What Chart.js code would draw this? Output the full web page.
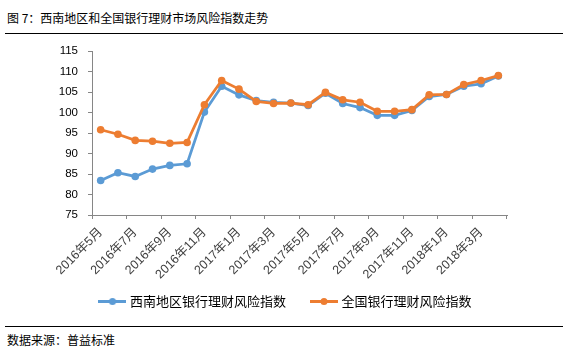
<!DOCTYPE html>
<html>
<head>
<meta charset="utf-8">
<script src="https://cdn.jsdelivr.net/npm/chart.js@4/dist/chart.umd.min.js"></script>
<style>
body{margin:0;background:#fff;width:573px;height:353px;overflow:hidden;position:relative;font-family:"Noto Sans CJK SC",sans-serif}
#title{position:absolute;left:7px;top:9px;font-size:12px;color:#000;white-space:nowrap}
#topLine{position:absolute;left:5px;top:33px;width:558px;height:0;border-top:1.5px solid #000}
#bottomLine{position:absolute;left:5px;top:326px;width:558px;height:0;border-top:1.5px solid #000}
#source{position:absolute;left:7px;top:331px;font-size:12px;color:#000;white-space:nowrap}
#wrap{position:absolute;left:0;top:0;width:573px;height:320px}
</style>
</head>
<body>
<div id="title">图 7：西南地区和全国银行理财市场风险指数走势</div>
<div id="topLine"></div>
<div id="wrap"><canvas id="riskChart" width="573" height="320"></canvas></div>
<div id="bottomLine"></div>
<div id="source">数据来源：普益标准</div>
<script>

const months=["2016年5月","2016年6月","2016年7月","2016年8月","2016年9月","2016年10月","2016年11月","2016年12月",
"2017年1月","2017年2月","2017年3月","2017年4月","2017年5月","2017年6月","2017年7月","2017年8月",
"2017年9月","2017年10月","2017年11月","2017年12月","2018年1月","2018年2月","2018年3月","2018年4月"]

const southwest=[83.4,85.3,84.4,86.2,87.1,87.5,100.1,106.4,104.3,102.9,102.5,102.3,101.7,104.7,102.2,101.2,99.3,99.3,100.5,103.9,104.4,106.4,107.0,108.9]

const national=[95.8,94.7,93.2,93.0,92.5,92.7,101.9,107.8,105.7,102.7,102.2,102.3,101.9,104.9,103.1,102.5,100.3,100.3,100.7,104.3,104.4,106.8,107.8,109.0]

const seriesNames=["西南地区银行理财风险指数","全国银行理财风险指数"]

const yMin=75
const yMax=115
const yStep=5

const blue="#5B9BD5"
const orange="#ED7D31"
const axisGray="#868686"

function legendIcon(color)
{
const c=document.createElement("canvas")
c.width=28
c.height=9
const g=c.getContext("2d")
g.strokeStyle=color
g.lineWidth=3
g.beginPath()
g.moveTo(0,4.5)
g.lineTo(28,4.5)
g.stroke()
g.fillStyle=color
g.beginPath()
g.arc(14,4.5,3.5,0,Math.PI*2)
g.fill()
return c
}

const icons=[legendIcon(blue),legendIcon(orange)]

const ctx=document.getElementById("riskChart")

new Chart(ctx,
{
type:"line",
data:
{
labels:months,
datasets:[
{
label:seriesNames[0],
data:southwest,
borderColor:blue,
backgroundColor:blue,
borderWidth:2.75,
pointRadius:3.8,
pointBorderWidth:0,
pointBackgroundColor:blue,
order:1
},
{
label:seriesNames[1],
data:national,
borderColor:orange,
backgroundColor:orange,
borderWidth:2.75,
pointRadius:3.8,
pointBorderWidth:0,
pointBackgroundColor:orange,
order:0
}
]
},
options:
{
responsive:false,
animation:false,
layout:{padding:{left:0,right:0,top:51,bottom:2}},
plugins:
{
tooltip:{enabled:false},
legend:
{
position:"bottom",
labels:
{
usePointStyle:true,
pointStyleWidth:22,
padding:14,
color:"#000",
font:{family:"Noto Sans CJK SC",size:13},
generateLabels:function(chart)
{
return seriesNames.map(function(name,i)
{
// ideographic space widens the gap between the two items
return {text:i===0?name+"\u3000":name,pointStyle:icons[i],datasetIndex:i,fontColor:"#000",hidden:false,lineWidth:0,strokeStyle:"rgba(0,0,0,0)",fillStyle:"rgba(0,0,0,0)"}
})
}
}
}
},
scales:
{
x:
{
offset:true,
grid:
{
offset:true,
drawOnChartArea:false,
tickLength:4,
color:function(c){return (c.index===undefined||c.index%2===0)?axisGray:"rgba(0,0,0,0)"}
},
border:{color:axisGray,width:1},
ticks:
{
autoSkip:false,
maxRotation:45,
minRotation:45,
padding:6,
color:"#404040",
font:{family:"Liberation Sans, Noto Sans CJK SC",size:12.5},
callback:function(v,i){return i%2===0?months[i]:""}
},
afterFit:function(s){s.height=66}
},
y:
{
min:yMin,
max:yMax,
grid:{drawOnChartArea:false,tickLength:4,color:axisGray},
border:{color:axisGray,width:1},
ticks:
{
stepSize:yStep,
padding:10,
color:"#000",
font:{family:"Liberation Sans",size:11.5}
},
afterFit:function(s){s.width=92}
},
spacer:
{
type:"linear",
position:"right",
grid:{display:false},
border:{display:false},
ticks:{display:false},
afterFit:function(s){s.width=66}
}
}
}
})

</script>
</body>
</html>
